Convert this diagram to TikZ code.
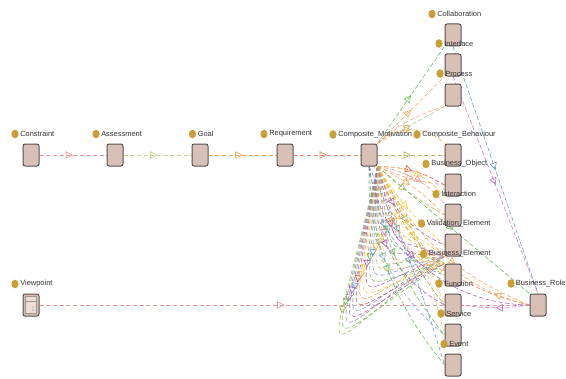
\documentclass[tikz,border=0pt]{standalone}
\usepackage{fontspec}
\setmainfont{Liberation Sans}
\usetikzlibrary{arrows.meta,decorations.markings,calc,shapes.geometric}
\definecolor{boxfill}{RGB}{216,192,182}
\definecolor{boxline}{RGB}{88,80,80}
\definecolor{vpinner}{RGB}{236,222,214}
\definecolor{gold}{RGB}{201,160,56}
\definecolor{txt}{RGB}{50,50,50}
\definecolor{cpink}{RGB}{232,150,150}
\definecolor{clgreen}{RGB}{196,210,140}
\definecolor{corange}{RGB}{245,170,90}
\definecolor{cdorange}{RGB}{230,140,100}
\definecolor{colive}{RGB}{175,180,95}
\definecolor{cgreen}{RGB}{110,190,90}
\definecolor{cblue}{RGB}{110,155,210}
\definecolor{cpurple}{RGB}{175,100,195}
\definecolor{cyellow}{RGB}{240,210,70}
\definecolor{cred}{RGB}{215,90,90}
\definecolor{cgray}{RGB}{150,150,150}
\definecolor{cmagenta}{RGB}{210,120,200}
\pgfdeclarelayer{bg}
\pgfsetlayers{bg,main}
\tikzset{
  box/.style={draw=boxline, fill=boxfill, rounded corners=1.6pt, line width=0.75pt,
    minimum width=12pt, minimum height=16.5pt, inner sep=0pt},
  dot/.style={ellipse, fill=gold, inner sep=0pt, minimum width=5.5pt, minimum height=6.5pt},
  lbl/.style={anchor=west, font=\fontsize{5.6}{6.5}\selectfont, text=txt, inner sep=0pt},
  rel/.style={line width=0.45pt, dash pattern=on 3.2pt off 1.8pt},
  mid/.style={postaction={decorate, decoration={markings,
    mark=at position #1 with {\arrow{Triangle[open,length=5.5pt,width=5.5pt,line width=0.5pt]}}}}},
}
\begin{document}
\begin{tikzpicture}[x=0.75pt,y=-0.75pt]
\useasboundingbox (0,0) rectangle (566,378);
% boxes
\node[box] (con) at (31,155) {};
\node[box] (ass) at (115,155) {};
\node[box] (goal) at (200,155) {};
\node[box] (req) at (285,155) {};
\node[box] (cm) at (369,155) {};
\node[box] (col) at (453,35) {};
\node[box] (intf) at (453,65) {};
\node[box] (proc) at (453,95) {};
\node[box] (cb) at (453,155) {};
\node[box] (bo) at (453,185) {};
\node[box] (inter) at (453,215) {};
\node[box] (ve) at (453,245) {};
\node[box] (be) at (453,275) {};
\node[box] (fn) at (453,305) {};
\node[box] (sv) at (453,335) {};
\node[box] (ev) at (453,365) {};
\node[box] (br) at (538,305) {};
\node[box] (vp) at (31,305) {};
\draw[fill=vpinner, draw=boxline!60, line width=0.3pt] ($(vp.south west)+(3,-3)$) rectangle ($(vp.north east)+(-3,3)$);
\draw[draw=boxline!60, line width=0.3pt] ($(vp.north west)+(3,8)$) -- ($(vp.north east)+(-3,8)$);
\fill[boxline] ($(vp.center)+(2,2)$) circle (0.5) ($(vp.center)+(2,5)$) circle (0.5);
% labels
\node[dot] (con-d) at (15,134) {};   \node[lbl] (con-l) at (20,134) {Constraint};
\node[dot] (ass-d) at (96,134) {};   \node[lbl] (ass-l) at (101,134) {Assessment};
\node[dot] (goal-d) at (192.5,134) {}; \node[lbl] (goal-l) at (197.5,134) {Goal};
\node[dot] (req-d) at (264,134) {};  \node[lbl] (req-l) at (269,134) {Requirement};
\node[dot] (cm-d) at (333,134.5) {}; \node[lbl] (cm-l) at (338,134.5) {Composite\_Motivation};
\node[dot] (cb-d) at (417,134.5) {}; \node[lbl] (cb-l) at (422,134.5) {Composite\_Behaviour};
\node[dot] (col-d) at (432,14) {};   \node[lbl] (col-l) at (437,14) {Collaboration};
\node[dot] (intf-d) at (439,43.5) {}; \node[lbl] (intf-l) at (444,43.5) {Interface};
\node[dot] (proc-d) at (440,73.5) {}; \node[lbl] (proc-l) at (445,73.5) {Process};
\node[dot] (bo-d) at (426,164) {};   \node[lbl] (bo-l) at (431,164) {Business\_Object};
\node[dot] (inter-d) at (436,194) {}; \node[lbl] (inter-l) at (441,194) {Interaction};
\node[dot] (ve-d) at (421.5,223.5) {}; \node[lbl] (ve-l) at (426.5,223.5) {Validation\_Element};
\node[dot] (be-d) at (423.5,254) {}; \node[lbl] (be-l) at (428.5,254) {Business\_Element};
\node[dot] (fn-d) at (439,283.5) {}; \node[lbl] (fn-l) at (444,283.5) {Function};
\node[dot] (sv-d) at (441,313.5) {}; \node[lbl] (sv-l) at (446,313.5) {Service};
\node[dot] (ev-d) at (444,344) {};   \node[lbl] (ev-l) at (449,344) {Event};
\node[dot] (br-d) at (511,283.5) {}; \node[lbl] (br-l) at (515.5,283.5) {Business\_Role};
\node[dot] (vp-d) at (15,284) {};    \node[lbl] (vp-l) at (20,284) {Viewpoint};
% connectors
\begin{pgfonlayer}{bg}
\draw[rel,cpink,mid=0.5] (con) -- (ass);
\draw[rel,clgreen,mid=0.5] (ass) -- (goal);
\draw[rel,corange,mid=0.5] (goal) -- (req);
\draw[rel,cdorange,mid=0.5] (req) -- (cm);
\draw[rel,colive,mid=0.5] (cm) -- (cb);
\draw[rel,cpink,mid=0.5] (vp) -- (br);
\draw[rel,cblue,mid=0.5] (col.south) -- (br.north);
\draw[rel,cmagenta,mid=0.5] (intf.south) -- (br.north);
\draw[rel,cgreen,mid=0.5] (cm.north east) -- (col.south west);
\draw[rel,corange,mid=0.5] (cm.north east) -- (intf.south west);
\draw[rel,colive!80,mid=0.5] (cm.north east) -- (proc.south west);
\draw[rel,cdorange!70] (cm.north east) to[bend left=12] (proc.south west);
\draw[rel,corange,mid=0.5] (cm.north east) to[bend left=45] (cb.north west);
% fan loops: each loop turns at a tip on the line (410,213)--(340,333)
\foreach \s/\c/\t/\a/\py in {1.00/colive/ve/south west/256, 0.95/cgreen/be/north west/264,
  0.90/cgray/ve/south west/256, 0.85/cpurple/be/north west/264, 0.80/cblue/ve/south west/256,
  0.75/cred/be/north west/264, 0.70/corange/ve/south west/256, 0.65/cyellow/be/north west/264,
  0.60/cpurple/ve/south west/256, 0.55/cgreen/be/north west/264, 0.50/cblue/ve/south west/256,
  0.45/corange/be/north west/264, 0.40/colive/ve/south west/256, 0.35/cyellow/be/north west/264,
  0.30/cmagenta/ve/south west/256, 0.25/cgreen/be/north west/264, 0.20/cpurple/ve/south west/256,
  0.15/corange/be/north west/264, 0.10/cyellow/ve/south west/256}{
  \pgfmathsetmacro{\tx}{410-70*\s}
  \pgfmathsetmacro{\ty}{213+120*\s}
  \pgfmathsetmacro{\ax}{377+1.3333*(\tx-377)}
  \pgfmathsetmacro{\ay}{166+1.3333*(\ty-166)}
  \pgfmathsetmacro{\bx}{445+1.3333*(\tx-445)}
  \pgfmathsetmacro{\by}{\py+1.3333*(\ty-\py)}
  \draw[rel,color=\c,mid=0.5] (cm.south east) .. controls (\ax,\ay) and (\bx,\by) .. (\t.\a);
}
% fan to the right column
\draw[rel,cred,mid=0.5] (cm.south east) to[bend left=15] (bo.west);
\draw[rel,cdorange!80,mid=0.55] (cm.south east) to[bend right=8] (bo.west);
\draw[rel,cyellow,mid=0.6] (cm.south east) to[bend left=25] (bo.south west);
\draw[rel,corange,mid=0.45] (cm.south east) to[bend left=10] (inter.west);
\draw[rel,colive,mid=0.45] (cm.south east) to[bend right=6] (inter.west);
\draw[rel,cpink,mid=0.6] (cm.south east) to[bend left=20] (inter.north west);
\draw[rel,cyellow,mid=0.5] (cm.south east) to[bend right=8] (ve.west);
\draw[rel,cpurple,mid=0.4] (cm.south east) to[bend right=25] (ve.west);
\draw[rel,colive,mid=0.5] (cm.south east) to[bend right=6] (be.west);
\draw[rel,corange,mid=0.45] (cm.south east) to[bend right=30] (be.west);
\draw[rel,cblue,mid=0.45] (cm.south east) to[bend right=42] (be.west);
\draw[rel,cpurple,mid=0.5] (cm.south east) to[bend right=36] (fn.west);
\draw[rel,cyellow,mid=0.45] (cm.south east) to[bend left=5] (fn.west);
\draw[rel,cgray,mid=0.45] (cm.south east) to[bend right=12] (fn.west);
\draw[rel,cgreen,mid=0.5] (cm.south) to[bend right=14] (sv.west);
\draw[rel,cyellow,mid=0.45] (cm.south east) to[bend left=8] (sv.west);
\draw[rel,cblue!80,mid=0.5] (cm.south) to[bend right=26] (sv.west);
\draw[rel,cgreen,mid=0.5] (cm.south) to[bend right=18] (ev.west);
\draw[rel,cblue,mid=0.5] (cm.south) to[bend left=4] (ev.west);
\draw[rel,cgreen,mid=0.5] (cm.south east) -- (br.north west);
\draw[rel,corange,mid=0.6] (cm.south east) to[bend right=20] (br.west);
\draw[rel,cdorange,mid=0.6] (cm.south east) to[bend right=30] (br.west);
\draw[rel,cpurple,mid=0.45] (cm.south) to[bend right=40] (br.west);
\draw[rel,corange,mid=0.5] (br.west) to[bend left=10] (be.east);
\draw[rel,cmagenta,mid=0.5] (br.west) to[bend left=8] (fn.east);
\end{pgfonlayer}
\end{tikzpicture}
\end{document}
